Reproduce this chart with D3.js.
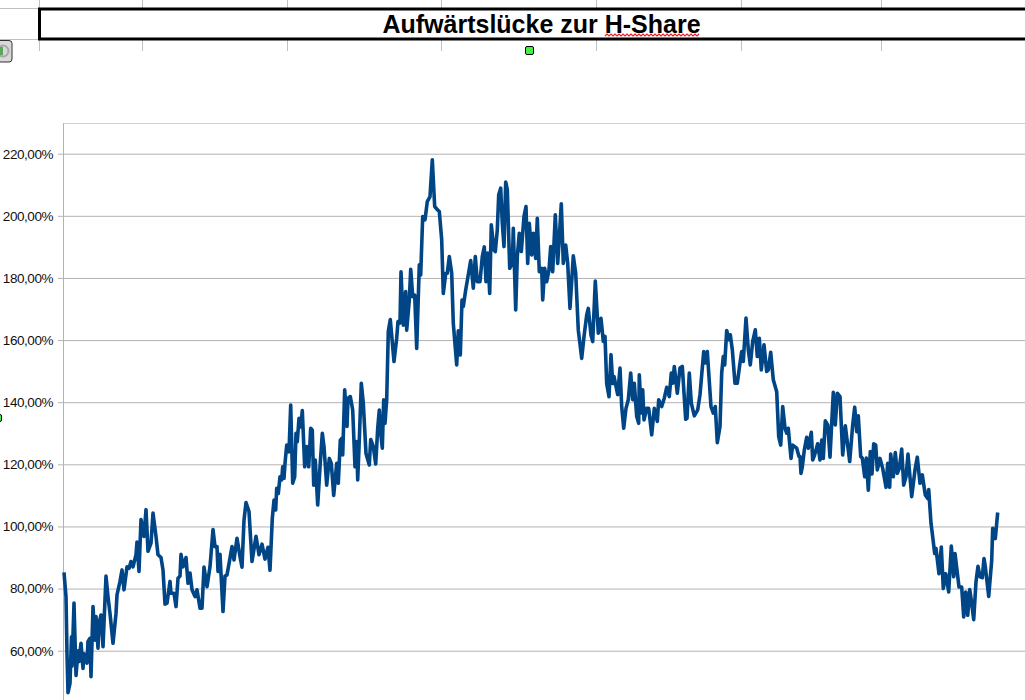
<!DOCTYPE html>
<html>
<head>
<meta charset="utf-8">
<script src="https://cdn.jsdelivr.net/npm/d3@7"></script>
<style>
    html, body { margin: 0; padding: 0; background: #fff; overflow: hidden; }
    svg { display: block; }
    text { font-family: "Liberation Sans", Arial, sans-serif; }
</style>
</head>
<body>
<div id="chart"></div>
<script>
"use strict";

const TITLE = "Aufwärtslücke zur H-Share";
const TICK_VALUES = [60, 80, 100, 120, 140, 160, 180, 200, 220];

// days = position along the (unlabelled) time axis
const days = [
    0, 2, 3, 4, 6, 7.5, 8, 10, 12, 14, 15, 17, 19, 20, 23, 24, 26, 27, 29, 31, 32, 34, 35, 37, 39,
    42, 44, 46, 49, 52, 53, 56, 58, 60, 63, 65, 67, 69, 72, 73, 75, 77, 80, 82, 84, 87, 89, 92, 94, 97, 99,
    101, 103, 106, 107, 110, 112, 114, 116, 117, 119, 122, 124, 126, 128, 131, 133, 136, 138, 140, 143, 146, 149,
    151, 153, 154, 156, 159, 161, 163, 166, 168, 170, 173, 176, 178, 180, 182, 185, 188, 192, 195, 198, 201, 204, 206,
    208.3, 210, 211.7, 212.7, 214.3, 216, 217.7, 218.7, 220, 221, 222.7, 225, 226.7, 228.7, 230.7, 232, 233.3, 235, 236.7, 238.3,
    240.7, 242.7, 244.7, 246.7, 248.3, 249.7, 251.3, 253.7, 256, 258.3, 260, 262.7, 265.3, 267.3, 269.7, 272.7, 274.3, 276.3, 278, 278.7,
    280.7, 283, 284, 286.3, 288.7, 291, 292.7, 293.7, 295.3, 297.3, 299.3, 302, 305.3, 306.7, 309.3, 311.7, 313.7, 315.3, 316.7, 318.3,
    319.7, 321, 322.7, 324.3, 326.3, 330, 332.7, 334, 336,
    337, 339.3, 341.7, 342.7, 345.3, 346.7, 348.7, 350.7, 352.7, 355.3, 356.7, 358.7, 361, 363.3, 366, 368.3, 370.7, 373.3, 375.3, 377.7, 379.3,
    381.7, 383.3, 385.3, 387.7, 389.3, 392.7, 394.3, 396.3, 398, 399.3, 401.7, 403.7, 406.7, 409.3, 411.3, 413.3, 416, 418.3, 420.3, 422, 423.7, 425.7,
    427.3, 430, 431.3, 433.3, 434.7, 436.7, 438.3, 440, 441.7, 443.3, 445.7, 448.3, 449.3, 451.7, 453.3, 455.3, 457.3, 460, 462, 463.7, 465.3, 467.7, 469.3,
    471.7, 473.3, 475.3, 477.7, 478.7, 480.7, 482.7, 485, 486.7, 488.7, 491.3, 493.7, 495.3, 497.3, 499.3, 501.7, 503.7, 506, 509.3, 511.7, 514.3, 517.7,
    520, 522.7, 524.3, 527, 528.7, 531.3, 534.3, 537,
    539.3, 541, 542.7, 545, 547, 548.7, 550, 551.7, 553.7, 556, 557.7, 559.7, 562, 564.3, 566.7, 568.7, 570.3, 572.7, 574.7, 575.3, 577.3, 578.7, 580,
    582.7, 584.7, 587.7, 590.3, 593.3, 594.7, 597.7, 600.3, 602.7, 605.3, 607.3, 608.7, 610.3, 613.3, 616, 618.3, 621.7, 623, 625.3, 627.3, 630.3, 633.7,
    636, 639.7, 641, 643.3, 647, 649.3, 651.3, 653.3, 656, 657.7, 659.3, 660.7, 662.7, 665, 666.3, 668.3, 671, 673.3, 676, 677.7, 679.3, 682, 684.3, 686.3,
    688.7, 691.3, 693.3, 695.3, 697.3, 700, 702.7, 704.3, 706.7, 709.3, 712.7, 714.7, 716.7, 718.7, 721, 722.7, 724.3, 727, 728.7, 732.7, 735,
    736, 737, 738.3, 740.3, 742.7, 744.3, 747.3, 748.7, 750.3, 753.7, 756, 757.7, 759.3, 761.3, 763.7, 766, 769.3, 771.3, 773.3, 776, 778.7, 781.3, 785.7,
    788.7, 790.7, 792.7, 794.3, 796.7, 798.3, 800.7, 802.3, 804.3, 806.3, 808, 809.7, 811.7, 813.3, 816, 818.7, 822, 823.7, 825.7, 826.7, 829.3, 831.3, 833.3,
    835.3, 837.7, 839.7, 842, 844, 847.7, 851, 853.3, 856, 858.3, 861.3, 863.7, 864.7, 867, 868.3, 870.7, 872, 875, 877.3, 879.3, 881.7, 884.7, 887.3, 889.7,
    891, 895, 897.7, 899.7, 901.7, 903.7, 905.7, 907.3, 909.7, 912, 914, 916, 918.3, 920, 921.3, 924.7, 927.7, 928.7, 931.3, 933.7
];

const gapPct = [
    85.2, 77.4, 59, 46.5, 49.5, 64.5, 55, 75.3, 52, 60, 56.5, 62.4, 54.3, 59, 56, 63, 64, 51.6, 74.2, 63.4, 71, 60.8, 68.8, 71.5, 61.3,
    84, 77.4, 72, 62.4, 72, 78, 82.3, 86, 79.6, 87, 86.5, 88.7, 87, 90.9, 95, 85.5, 102.2, 96.8, 105.4, 92, 94.6, 104.3, 96.8, 90.9, 90, 86,
    75, 75.3, 82.3, 78.5, 78.5, 74.2, 83.3, 84, 91, 87, 90, 81.7, 85, 79.6, 77.4, 79.6, 73.7, 73.7, 86.9, 80.6, 87, 99,
    93.5, 93.5, 85.5, 91, 72.6, 84, 84.4, 89.8, 93.5, 89.2, 96.2, 90.3, 86.9, 102, 107.7, 104.8, 88.7, 96.8, 90.9, 94.3, 89.5, 93.3, 85.9,
    102.6, 108.5, 105.3, 112.3, 110.6, 116, 115, 119.2, 115.5, 120.3, 126.2, 124, 139.1, 113.9, 116, 130, 127.3, 134.8, 132, 137.3,
    119.2, 125.7, 119.2, 131.6, 131, 113.3, 121.4, 106.9, 119.2, 130, 125.7, 113.3, 121.9, 120.3, 110, 120.3, 113.9, 127.8, 128.4, 123,
    144, 132.2, 141.3, 141.8, 137.5, 119.2, 127.3, 115, 127.8, 146.1, 139.7, 123.5, 119.8, 128, 125.7, 120.1, 131.6, 137.5, 130, 125.2,
    140.8, 133.2, 140.8, 162.8, 166.6, 153.1, 160.6, 166, 165.5,
    182, 164.8, 175.6, 163.2, 172.9, 182.8, 174, 174.5, 157.3, 184.2, 181, 199.8, 198.7, 204.6, 206.2, 218, 203, 202, 201.4, 192.3, 175,
    181.5, 181.5, 186.9, 181.5, 165.4, 152, 163, 155.2, 172.9, 170.8, 176.1, 179.9, 185.6, 176.7, 186.9, 178.8, 178.8, 186.9, 190, 178.8, 188, 175,
    197.1, 189, 188.5, 195.5, 206.8, 208.9, 197.6, 190.1, 210.9, 208.4, 183.1, 184.7, 196, 169.7, 186.9, 194.4, 188.5, 199.8, 203, 184.7, 197.6, 187.4, 194.4,
    186.3, 199.2, 182, 183.1, 172.9, 183.1, 178.8, 182.6, 190.1, 182, 200.3, 184.7, 192.8, 203.9, 184.7, 190.6, 184.7, 170.2, 187.1, 181.5, 163.2, 154.1,
    161.1, 168.1, 170.2, 161.6, 159.5, 179, 162.2, 167,
    159.6, 161.2, 146, 141.8, 155.3, 146, 148.3, 145.6, 142.4, 151, 138.6, 131.6, 138, 140.8, 149.4, 140.8, 146.1, 135.4, 133.2, 148.8, 136.5, 144, 134.3,
    138, 138, 129.5, 138, 133.8, 140.8, 138.6, 141.3, 144.8, 141.8, 149.4, 146.1, 151.5, 142.9, 151, 151.5, 134.5, 134.8, 149.4, 139.7, 135.6, 137.5,
    142.4, 156.3, 152.6, 156.3, 138.6, 136.5, 138.6, 127, 132.2, 149.4, 154.7, 152, 163.1, 160.1, 161.7, 156.9, 146.1, 146.1, 152.6, 156.3, 153.1, 167.1, 156.9, 152,
    159.6, 163.3, 154.7, 160.6, 150.4, 158.5, 149.9, 150.4, 156.1, 147.2, 143.4, 128.9, 126.2, 138.6, 131.6, 130, 131.6, 121.9, 126.2, 125.2, 122.5,
    122.5, 117.1, 119.2, 124.6, 128.7, 125.2, 130.3, 121.4, 122.7, 126.6, 121.4, 127.8, 121.9, 134, 132.7, 122.3, 143.2, 132.7, 142.9, 141.8, 123, 132.4, 120.9,
    132.7, 138.4, 130.5, 135.6, 122.5, 122, 116, 122, 111.7, 124.1, 116.9, 126.6, 126.2, 118.2, 121.9, 118.7, 112.6, 120.3, 112.6, 123.3, 116, 123.8, 117.1,
    118.7, 124.9, 113.3, 116, 123.3, 109.6, 118.2, 122.3, 113.9, 116.6, 110.1, 109, 111.9, 101, 97.7, 91.3, 92.9, 84.8, 93.4, 80, 84.8, 78.9, 93.7, 83.8,
    91.3, 80.5, 80.5, 70.9, 78.9, 71.4, 79.7, 76.2, 70, 82.2, 87.2, 83.8, 83.5, 89.7, 87, 77.5, 89.1, 99.4, 96.1, 104.5
];

const WIDTH = 1025, HEIGHT = 700;
const GRID = "#b3b3b3";
const LINE_BLUE = "#004586";

function formatPct(v) {
    return v.toFixed(2).replace(".", ",") + "%";
}

function buildSheetBackground(svg) {
    // spreadsheet cell borders showing around the title box
    const colXs = [39, 142, 287, 441, 596, 741, 881];
    const g = svg.append("g").attr("stroke", "#c0c0c0").attr("stroke-width", 1);
    colXs.forEach(function (x) {
        g.append("line").attr("x1", x + 0.5).attr("x2", x + 0.5).attr("y1", 0).attr("y2", 51);
    });
    g.append("line").attr("x1", 0).attr("x2", 39).attr("y1", 8.5).attr("y2", 8.5);
    g.append("line").attr("x1", 0).attr("x2", 39).attr("y1", 39.5).attr("y2", 39.5);
}

function buildTitle(svg) {
    svg.append("rect")
        .attr("x", 39.5).attr("y", 9).attr("width", WIDTH + 10).attr("height", 30)
        .attr("fill", "#fff").attr("stroke", "#000").attr("stroke-width", 3);
    svg.append("text")
        .attr("x", 541.5).attr("y", 33)
        .attr("text-anchor", "middle")
        .attr("font-size", 25).attr("font-weight", "bold").attr("fill", "#000")
        .text(TITLE);

    // spell checker squiggle under "H-Share"
    const squiggle = d3.range(605, 701, 2).map(function (x, i) {
        return [x, i % 2 ? 34 : 36];
    });
    svg.append("path")
        .attr("d", d3.line()(squiggle))
        .attr("fill", "none").attr("stroke", "#ee1c24").attr("stroke-width", 1.2);
}

function buildHandles(svg) {
    svg.append("rect")
        .attr("x", 525.5).attr("y", 46.5).attr("width", 8).attr("height", 8).attr("rx", 1.5)
        .attr("fill", "#43f043").attr("stroke", "#000");
    svg.append("rect")
        .attr("x", -5.5).attr("y", 414.5).attr("width", 7).attr("height", 7).attr("rx", 1.5)
        .attr("fill", "#43f043").attr("stroke", "#000");

    // the little sidebar button cut off at the left edge
    svg.append("rect")
        .attr("x", -8.5).attr("y", 40.5).attr("width", 20.5).attr("height", 21.5).attr("rx", 3)
        .attr("fill", "#d8d8d8").attr("stroke", "#333");
    svg.append("circle")
        .attr("cx", 3).attr("cy", 51).attr("r", 5.5)
        .attr("fill", "none").attr("stroke", "#a8a8a8").attr("stroke-width", 2);
    svg.append("rect")
        .attr("x", 0).attr("y", 47).attr("width", 3).attr("height", 8)
        .attr("fill", "#5aa85a");
}

function buildChart(svg) {
    const scaleX = d3.scaleLinear().domain([0, 934]).range([64, 998]);
    const scaleY = d3.scaleLinear().domain([60, 220]).range([650.7, 153.7]);

    // top border and y axis line of the plot
    svg.append("line")
        .attr("x1", 63.5).attr("x2", WIDTH).attr("y1", 123.5).attr("y2", 123.5)
        .attr("stroke", "#d0d0d0").attr("stroke-width", 1);
    svg.append("line")
        .attr("x1", 63.5).attr("x2", 63.5).attr("y1", 123).attr("y2", HEIGHT)
        .attr("stroke", GRID).attr("stroke-width", 1);

    const yAxis = d3.axisLeft(scaleY)
        .tickValues(TICK_VALUES)
        .tickFormat(formatPct)
        .tickSize(WIDTH - 58)
        .tickPadding(5);
    const axisG = svg.append("g")
        .attr("transform", "translate(" + WIDTH + ",0)")
        .call(yAxis);
    axisG.select(".domain").remove();
    axisG.selectAll(".tick line").attr("stroke", GRID).attr("stroke-width", 1);
    axisG.selectAll(".tick text")
        .attr("font-family", "Liberation Sans")
        .attr("font-size", 13.5)
        .attr("letter-spacing", -0.45)
        .attr("fill", "#111");

    const line = d3.line()
        .x(function (d, i) { return scaleX(days[i]); })
        .y(function (d) { return scaleY(d); })
        .curve(d3.curveLinear);
    svg.append("path")
        .datum(gapPct)
        .attr("d", line)
        .attr("fill", "none")
        .attr("stroke", LINE_BLUE)
        .attr("stroke-width", 3.6)
        .attr("stroke-linejoin", "round");
}

function main() {
    const svg = d3.select("#chart").append("svg")
        .attr("width", WIDTH).attr("height", HEIGHT);
    buildSheetBackground(svg);
    buildTitle(svg);
    buildHandles(svg);
    buildChart(svg);
    if (days.length !== gapPct.length) {
        console.warn("length mismatch " + days.length + " / " + gapPct.length);
        document.title = "mismatch";
    }
}

main();
</script>
</body>
</html>
